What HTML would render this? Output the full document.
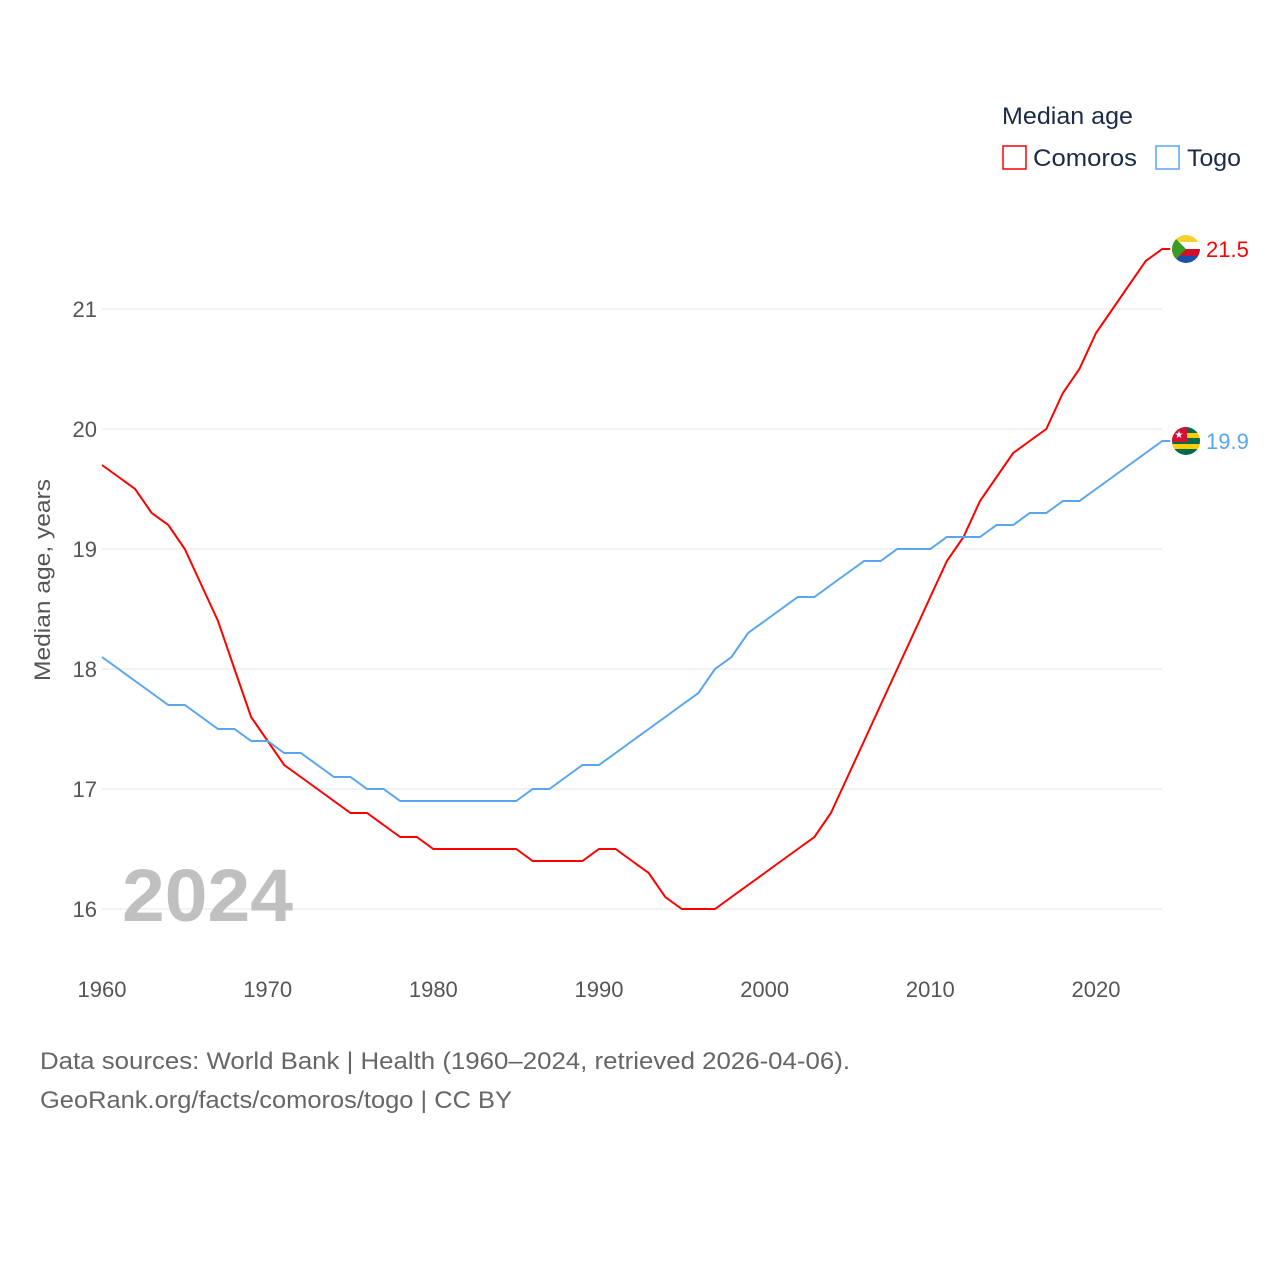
<!DOCTYPE html>
<html><head><meta charset="utf-8"><style>
body{margin:0;background:#fff;font-family:"Liberation Sans",sans-serif}
svg text{font-family:"Liberation Sans",sans-serif}
</style></head><body>
<svg width="1280" height="1280" viewBox="0 0 1280 1280">
<defs>
<clipPath id="c1"><circle cx="1186" cy="249" r="14"/></clipPath>
<clipPath id="c2"><circle cx="1186" cy="441" r="14"/></clipPath>
</defs>
<g id="grid"></g>
<g id="yt"></g>
<g id="xt"></g>
<text x="50" y="580" transform="rotate(-90 50 580)" text-anchor="middle" font-size="22" fill="#555" textLength="202" lengthAdjust="spacingAndGlyphs">Median age, years</text>
<text x="122" y="921" font-size="74" font-weight="bold" fill="#c0c0c0" textLength="171" lengthAdjust="spacingAndGlyphs">2024</text>
<g id="lines"></g>
<g>
<text x="1002" y="124" font-size="24" fill="#1c2b45" textLength="131" lengthAdjust="spacingAndGlyphs">Median age</text>
<rect x="1003" y="146" width="23" height="23" fill="none" stroke="#f00" stroke-width="1.5"/>
<text x="1033" y="166" font-size="24" fill="#1c2b45" textLength="104" lengthAdjust="spacingAndGlyphs">Comoros</text>
<rect x="1156" y="146" width="23" height="23" fill="none" stroke="#5aa5f0" stroke-width="1.5"/>
<text x="1187" y="166" font-size="24" fill="#1c2b45" textLength="54" lengthAdjust="spacingAndGlyphs">Togo</text>
</g>
<g id="ends"></g>
<text x="40" y="1069" font-size="24" fill="#666" textLength="810" lengthAdjust="spacingAndGlyphs">Data sources: World Bank | Health (1960–2024, retrieved 2026-04-06).</text>
<text x="40" y="1108" font-size="24" fill="#666" textLength="472" lengthAdjust="spacingAndGlyphs">GeoRank.org/facts/comoros/togo | CC BY</text>
</svg>
<script>
const years=[];for(let y=1960;y<=2024;y++)years.push(y);
const comoros=[19.7,19.6,19.5,19.3,19.2,19.0,18.7,18.4,18.0,17.6,17.4,17.2,17.1,17.0,16.9,16.8,16.8,16.7,16.6,16.6,16.5,16.5,16.5,16.5,16.5,16.5,16.4,16.4,16.4,16.4,16.5,16.5,16.4,16.3,16.1,16.0,16.0,16.0,16.1,16.2,16.3,16.4,16.5,16.6,16.8,17.1,17.4,17.7,18.0,18.3,18.6,18.9,19.1,19.4,19.6,19.8,19.9,20.0,20.3,20.5,20.8,21.0,21.2,21.4,21.5];
const togo=[18.1,18.0,17.9,17.8,17.7,17.7,17.6,17.5,17.5,17.4,17.4,17.3,17.3,17.2,17.1,17.1,17.0,17.0,16.9,16.9,16.9,16.9,16.9,16.9,16.9,16.9,17.0,17.0,17.1,17.2,17.2,17.3,17.4,17.5,17.6,17.7,17.8,18.0,18.1,18.3,18.4,18.5,18.6,18.6,18.7,18.8,18.9,18.9,19.0,19.0,19.0,19.1,19.1,19.1,19.2,19.2,19.3,19.3,19.4,19.4,19.5,19.6,19.7,19.8,19.9];
const yTicks=[16,17,18,19,20,21];
const xTicks=[1960,1970,1980,1990,2000,2010,2020];
const X=v=>102+(v-1960)*994/60, Y=v=>909-(v-16)*120;
const NS='http://www.w3.org/2000/svg';
function mk(tag,attrs,parent,txt){const e=document.createElementNS(NS,tag);for(const k in attrs)e.setAttribute(k,attrs[k]);if(txt!==undefined)e.textContent=txt;parent.appendChild(e);return e;}
const grid=document.getElementById('grid'),yt=document.getElementById('yt'),xt=document.getElementById('xt'),lines=document.getElementById('lines'),ends=document.getElementById('ends');
yTicks.forEach(t=>{
 const l=mk('line',{x1:102,x2:1162,y1:Y(t),y2:Y(t),stroke:'#e6e6e6','stroke-width':1},grid);
 
 
 const tx=mk('text',{x:97,y:Y(t)+8,'text-anchor':'end','font-size':22,fill:'#555'},yt,t);
 
 
});
xTicks.forEach(t=>{
 const tx=mk('text',{x:X(t),y:997,'text-anchor':'middle','font-size':22,fill:'#555'},xt,t);
 
 
});
function series(vals,color,name,clip,flag){
 let d=vals.map((v,i)=>(i?'L':'M')+X(years[i]).toFixed(1)+','+Y(v).toFixed(1)).join(' ');
 const last=vals[vals.length-1];
 d+=' L'+(X(2024)+8)+','+Y(last);
 const p=mk('path',{d:d,fill:'none',stroke:color,'stroke-width':2},lines);
 
 
 const cx=1186,cy=Y(last);
 const g=mk('g',{'clip-path':'url(#'+clip+')'},ends);
 
 
 flag(g,cx,cy);
 const t=mk('text',{x:1206,y:cy+8,'font-size':22,fill:color},ends,last.toFixed(1));
 
 
}
series(comoros,'#f00','comoros','c1',(g,cx,cy)=>{
 mk('rect',{x:cx-14,y:cy-14,width:28,height:7,fill:'#f7d02c'},g);
 mk('rect',{x:cx-14,y:cy-7,width:28,height:7,fill:'#fff'},g);
 mk('rect',{x:cx-14,y:cy,width:28,height:7,fill:'#ce1126'},g);
 mk('rect',{x:cx-14,y:cy+7,width:28,height:7,fill:'#1c50a8'},g);
 mk('path',{d:`M${cx-14},${cy-14} L${cx},${cy} L${cx-14},${cy+14} Z`,fill:'#3a9d23'},g);
});
series(togo,'#5aa5f0','togo','c2',(g,cx,cy)=>{
 mk('rect',{x:cx-14,y:cy-14,width:28,height:28,fill:'#006a4e'},g);
 mk('rect',{x:cx-14,y:cy-8,width:28,height:5,fill:'#ffce00'},g);
 mk('rect',{x:cx-14,y:cy+3,width:28,height:5,fill:'#ffce00'},g);
 mk('rect',{x:cx-14,y:cy-14,width:15,height:15,fill:'#d21034'},g);
 mk('text',{x:cx-7,y:cy-3,'font-size':10,fill:'#fff','text-anchor':'middle'},g,'★');
});
</script>
</body></html>
